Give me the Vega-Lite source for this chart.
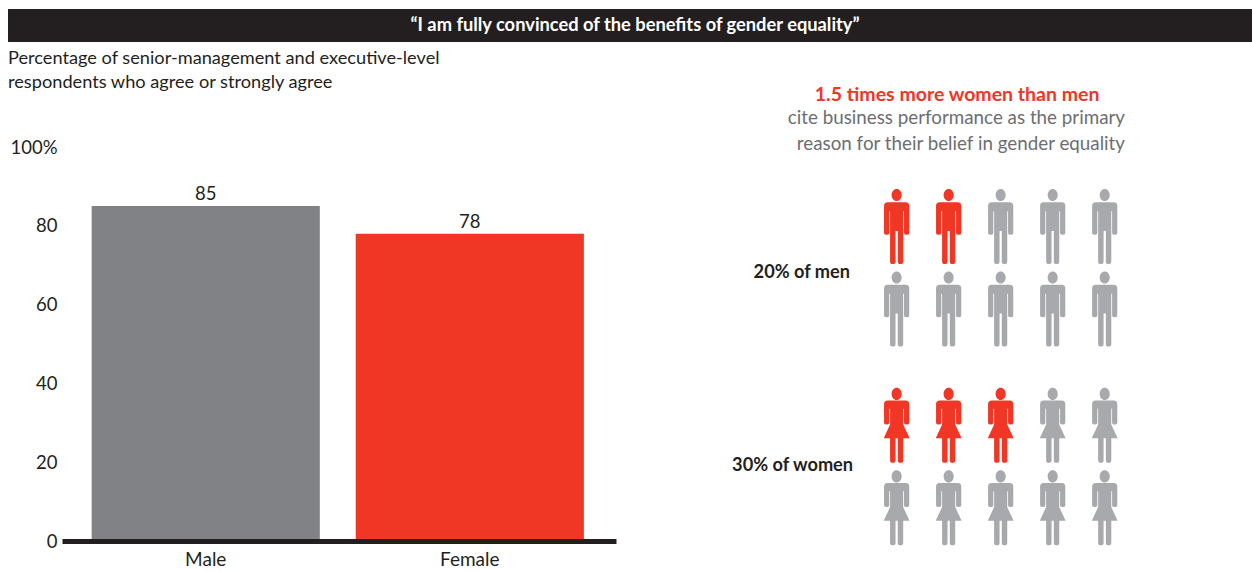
{
  "$schema": "https://vega.github.io/schema/vega-lite/v6.json",
  "padding": {"left": 8, "top": 9, "right": 0, "bottom": 0},
  "background": "white",
  "config": {
    "view": {"stroke": null},
    "font": "Lato",
    "text": {"font": "Lato"},
    "title": {"font": "Lato", "subtitleFont": "Lato"},
    "axis": {"labelFont": "Lato"}
  },
  "datasets": {
    "bars": [
      {"gender": "Male", "share": 85},
      {"gender": "Female", "share": 78}
    ],
    "figures": [
      {"group": "men", "col": 1, "row": 0, "cited": "yes"},
      {"group": "men", "col": 2, "row": 0, "cited": "yes"},
      {"group": "men", "col": 3, "row": 0, "cited": "no"},
      {"group": "men", "col": 4, "row": 0, "cited": "no"},
      {"group": "men", "col": 5, "row": 0, "cited": "no"},
      {"group": "men", "col": 1, "row": 1, "cited": "no"},
      {"group": "men", "col": 2, "row": 1, "cited": "no"},
      {"group": "men", "col": 3, "row": 1, "cited": "no"},
      {"group": "men", "col": 4, "row": 1, "cited": "no"},
      {"group": "men", "col": 5, "row": 1, "cited": "no"},
      {"group": "women", "col": 1, "row": 2.41, "cited": "yes"},
      {"group": "women", "col": 2, "row": 2.41, "cited": "yes"},
      {"group": "women", "col": 3, "row": 2.41, "cited": "yes"},
      {"group": "women", "col": 4, "row": 2.41, "cited": "no"},
      {"group": "women", "col": 5, "row": 2.41, "cited": "no"},
      {"group": "women", "col": 1, "row": 3.41, "cited": "no"},
      {"group": "women", "col": 2, "row": 3.41, "cited": "no"},
      {"group": "women", "col": 3, "row": 3.41, "cited": "no"},
      {"group": "women", "col": 4, "row": 3.41, "cited": "no"},
      {"group": "women", "col": 5, "row": 3.41, "cited": "no"}
    ],
    "groupLabels": [
      {"label": "20% of men", "col": 0.105, "row": 0.56},
      {"label": "30% of women", "col": 0.163, "row": 2.9}
    ],
    "headline": [
      {"label": "1.5 times more women than men", "col": 2.163, "row": -1.6}
    ]
  },
  "resolve": {"scale": {"color": "independent"}},
  "vconcat": [
    {
      "width": 1190,
      "height": 33,
      "data": {"values": [{"headline": "“I am fully convinced of the benefits of gender equality”"}]},
      "encoding": {
        "x": {"field": "headline", "type": "nominal", "axis": null, "scale": {"padding": 0, "range": [-54, 1190]}}
      },
      "layer": [
        {"mark": {"type": "bar", "color": "#231f20"}},
        {
          "mark": {"type": "text", "color": "white", "fontWeight": "bold", "fontSize": 18.3, "dx": 5},
          "encoding": {"text": {"field": "headline"}}
        }
      ]
    },
    {
      "bounds": "flush",
      "spacing": 84,
      "resolve": {"scale": {"color": "independent"}},
      "hconcat": [
        {
          "width": 554,
          "height": 394,
          "title": {
            "text": ["Percentage of senior-management and executive-level", "respondents who agree or strongly agree"],
            "anchor": "start",
            "frame": "group",
            "dx": -54,
            "offset": 46,
            "fontSize": 18.2,
            "fontWeight": "normal",
            "color": "#231f20",
            "lineHeight": 24
          },
          "data": {"name": "bars"},
          "encoding": {
            "x": {
              "field": "gender",
              "type": "nominal",
              "sort": null,
              "title": null,
              "scale": {"paddingInner": 0.136, "paddingOuter": 0.117, "align": 0.48},
              "axis": {
                "labelAngle": 0,
                "labelFontSize": 19,
                "labelColor": "#231f20",
                "labelPadding": 9,
                "ticks": false,
                "domainColor": "#231f20",
                "domainWidth": 5,
                "zindex": 1
              }
            },
            "y": {
              "field": "share",
              "type": "quantitative",
              "title": null,
              "scale": {"domain": [0, 100], "nice": false},
              "axis": {
                "values": [0, 20, 40, 60, 80, 100],
                "labelExpr": "datum.value === 100 ? '100%' : datum.label",
                "labelFontSize": 18.5,
                "labelColor": "#231f20",
                "labelPadding": 5,
                "ticks": false,
                "grid": false,
                "domain": false
              }
            }
          },
          "layer": [
            {
              "mark": {"type": "bar"},
              "encoding": {
                "color": {
                  "field": "gender",
                  "type": "nominal",
                  "legend": null,
                  "scale": {"domain": ["Male", "Female"], "range": ["#808285", "#f03625"]}
                }
              }
            },
            {
              "mark": {"type": "text", "baseline": "bottom", "dy": -2, "fontSize": 18.5, "color": "#231f20"},
              "encoding": {"text": {"field": "share", "type": "quantitative"}}
            }
          ]
        },
        {
          "width": 425,
          "height": 394,
          "title": {
            "text": ["cite business performance as the primary", "reason for their belief in gender equality"],
            "anchor": "end",
            "frame": "group",
            "offset": -69,
            "fontSize": 18.8,
            "fontWeight": "normal",
            "color": "#6d6e71",
            "lineHeight": 26
          },
          "encoding": {
            "x": {
              "field": "col",
              "type": "quantitative",
              "axis": null,
              "scale": {"domain": [-2.78, 5.39], "nice": false, "zero": false}
            },
            "y": {
              "field": "row",
              "type": "quantitative",
              "axis": null,
              "scale": {"domain": [-0.964, 3.812], "nice": false, "zero": false, "reverse": true}
            }
          },
          "layer": [
            {
              "data": {"name": "figures"},
              "mark": {"type": "point", "filled": true, "opacity": 1, "size": 5625, "strokeWidth": 0},
              "encoding": {
                "shape": {
                  "field": "group",
                  "type": "nominal",
                  "legend": null,
                  "scale": {
                    "domain": ["men", "women"],
                    "range": [
                      "M-.1345 -.8386A.1345 .161 0 1 1 .1345 -.8386A.1345 .161 0 1 1 -.1345 -.8386ZM-.24 -.65L.24 -.65Q.336 -.65 .336 -.55L.336 .17Q.336 .22 .266 .22Q.197 .22 .197 .17L.197 -.41L.175 -.41L.175 .93Q.175 1 .102 1Q.03 1 .03 .93L.03 .12L-.03 .12L-.03 .93Q-.03 1 -.102 1Q-.175 1 -.175 .93L-.175 -.41L-.197 -.41L-.197 .17Q-.197 .22 -.266 .22Q-.336 .22 -.336 .17L-.336 -.55Q-.336 -.65 -.24 -.65Z",
                      "M-.1345 -.8386A.1345 .161 0 1 1 .1345 -.8386A.1345 .161 0 1 1 -.1345 -.8386ZM-.24 -.66L.24 -.66Q.336 -.66 .336 -.56L.336 -.07Q.336 -.02 .266 -.02Q.197 -.02 .197 -.07L.197 -.44L.175 -.44L.175 -.02L.345 .345L.175 .345L.175 .93Q.175 1 .102 1Q.03 1 .03 .93L.03 .345L-.03 .345L-.03 .93Q-.03 1 -.102 1Q-.175 1 -.175 .93L-.175 .345L-.345 .345L-.175 -.02L-.175 -.44L-.197 -.44L-.197 -.07Q-.197 -.02 -.266 -.02Q-.336 -.02 -.336 -.07L-.336 -.56Q-.336 -.66 -.24 -.66Z"
                    ]
                  }
                },
                "color": {
                  "field": "cited",
                  "type": "nominal",
                  "legend": null,
                  "scale": {"domain": ["yes", "no"], "range": ["#f03625", "#a7a9ac"]}
                }
              }
            },
            {
              "data": {"name": "groupLabels"},
              "mark": {"type": "text", "align": "right", "fontSize": 18.2, "fontWeight": "bold", "color": "#231f20"},
              "encoding": {"text": {"field": "label"}}
            },
            {
              "data": {"name": "headline"},
              "mark": {"type": "text", "align": "center", "fontSize": 19.5, "fontWeight": "bold", "color": "#f03625"},
              "encoding": {"text": {"field": "label"}}
            }
          ]
        }
      ]
    }
  ],
  "spacing": 6
}
